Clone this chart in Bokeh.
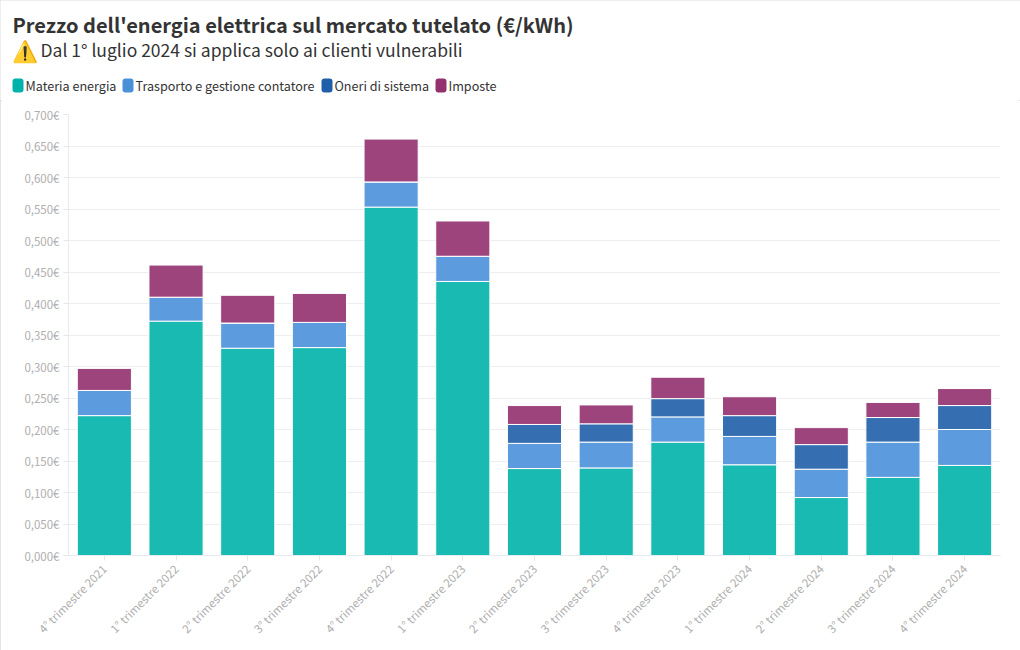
import math
from bokeh.plotting import figure
from bokeh.layouts import column, row
from bokeh.models import FactorRange, Range1d, FixedTicker, Label, BoxAnnotation, ColumnDataSource
from bokeh.embed import file_html
from bokeh.resources import INLINE

FONT = "Noto Sans CJK SC"
title = "Prezzo dell'energia elettrica sul mercato tutelato (€/kWh)"
subtitle_icon = "⚠️"
subtitle = "Dal 1° luglio 2024 si applica solo ai clienti vulnerabili"

categories = ["4° trimestre 2021", "1° trimestre 2022", "2° trimestre 2022", "3° trimestre 2022",
              "4° trimestre 2022", "1° trimestre 2023", "2° trimestre 2023", "3° trimestre 2023",
              "4° trimestre 2023", "1° trimestre 2024", "2° trimestre 2024", "3° trimestre 2024",
              "4° trimestre 2024"]
materia = [0.222, 0.372, 0.329, 0.330, 0.553, 0.435, 0.138, 0.139, 0.180, 0.144, 0.092, 0.124, 0.143]
trasporto = [0.040, 0.038, 0.040, 0.040, 0.040, 0.040, 0.040, 0.041, 0.040, 0.045, 0.045, 0.056, 0.057]
oneri = [0.0, 0.0, 0.0, 0.0, 0.0, 0.0, 0.030, 0.029, 0.029, 0.033, 0.039, 0.039, 0.038]
imposte = [0.035, 0.051, 0.044, 0.046, 0.068, 0.056, 0.030, 0.030, 0.034, 0.030, 0.027, 0.024, 0.027]
series_names = ["Materia energia", "Trasporto e gestione contatore", "Oneri di sistema", "Imposte"]
colors = ["#00b2a9", "#4a90d9", "#1f5fa8", "#93306f"]
tick_values = [0.0, 0.05, 0.1, 0.15, 0.2, 0.25, 0.3, 0.35, 0.4, 0.45, 0.5, 0.55, 0.6, 0.65, 0.7]
tick_labels = ["0,000€", "0,050€", "0,100€", "0,150€", "0,200€", "0,250€", "0,300€", "0,350€",
               "0,400€", "0,450€", "0,500€", "0,550€", "0,600€", "0,650€", "0,700€"]

HEAD_H = 100
# header strip: the annotations of a figure are only shown inside its frame
head = figure(width=1020, height=HEAD_H, x_range=Range1d(0, 1020), y_range=Range1d(HEAD_H, 0),
              output_backend="svg", toolbar_location=None,
              min_border_left=0, min_border_right=0, min_border_top=0, min_border_bottom=0)
head.axis.visible = False
head.grid.visible = False
head.outline_line_color = None

p = figure(width=1020, height=650 - HEAD_H, x_range=FactorRange(factors=categories, range_padding=0),
           y_range=Range1d(0, 0.7), output_backend="svg", toolbar_location=None,
           min_border_left=68, min_border_right=20, min_border_top=114 - HEAD_H, min_border_bottom=95)
p.outline_line_color = None
p.background_fill_color = "white"
p.border_fill_color = "white"

source = ColumnDataSource(dict(x=categories, a=materia, b=trasporto, c=oneri, d=imposte))
p.vbar_stack(["a", "b", "c", "d"], x="x", width=0.755, source=source, color=colors,
             fill_alpha=0.9, line_color="white", line_width=1)

p.xgrid.visible = False
p.ygrid.ticker = FixedTicker(ticks=tick_values)
p.ygrid.grid_line_color = "#eeeeee"
p.ygrid.grid_line_width = 1

p.yaxis.ticker = FixedTicker(ticks=tick_values)
p.yaxis.major_label_overrides = dict(zip(tick_values, tick_labels))
for ax in (p.xaxis[0], p.yaxis[0]):
    ax.axis_line_color = "#e6ebf0"
    ax.major_tick_line_color = "#e6e6e6"
    ax.minor_tick_line_color = None
    ax.major_label_text_color = "#aeaeae"
    ax.major_label_text_font = FONT
    ax.major_label_text_font_size = "11.5px"
    ax.major_tick_out = 5
    ax.major_tick_in = 0
p.yaxis.major_label_standoff = 4
p.xaxis.major_label_orientation = math.pi / 4
p.xaxis.major_label_standoff = 6

head.add_layout(Label(x=12, y=24, x_units="canvas", y_units="canvas", text=title,
                      text_font=FONT, text_font_style="bold", text_font_size="20px",
                      text_color="#333333", text_baseline="middle"))
head.add_layout(Label(x=11, y=49, x_units="canvas", y_units="canvas", text=subtitle_icon,
                      text_font=FONT, text_font_size="21px", text_color="#333333", text_baseline="middle"))
head.add_layout(Label(x=40, y=49, x_units="canvas", y_units="canvas", text=subtitle,
                      text_font=FONT, text_font_size="17.5px", text_color="#333333", text_baseline="middle"))

legend_x = [12, 122, 321, 435]
for lx, name, col in zip(legend_x, series_names, colors):
    head.add_layout(BoxAnnotation(left=lx, right=lx + 11, top=78, bottom=92,
                                  left_units="canvas", right_units="canvas", top_units="canvas",
                                  bottom_units="canvas", fill_color=col, fill_alpha=1, line_color=None,
                                  border_radius=3))
    head.add_layout(Label(x=lx + 13, y=84.5, x_units="canvas", y_units="canvas", text=name,
                          text_font=FONT, text_font_size="12.6px", text_color="#333333", text_baseline="middle"))

page = column(row(head), row(p), spacing=0, styles={"outline": "2px solid #dddddd", "outline-offset": "-2px"})
open("out.html", "w").write(file_html(page, INLINE))
